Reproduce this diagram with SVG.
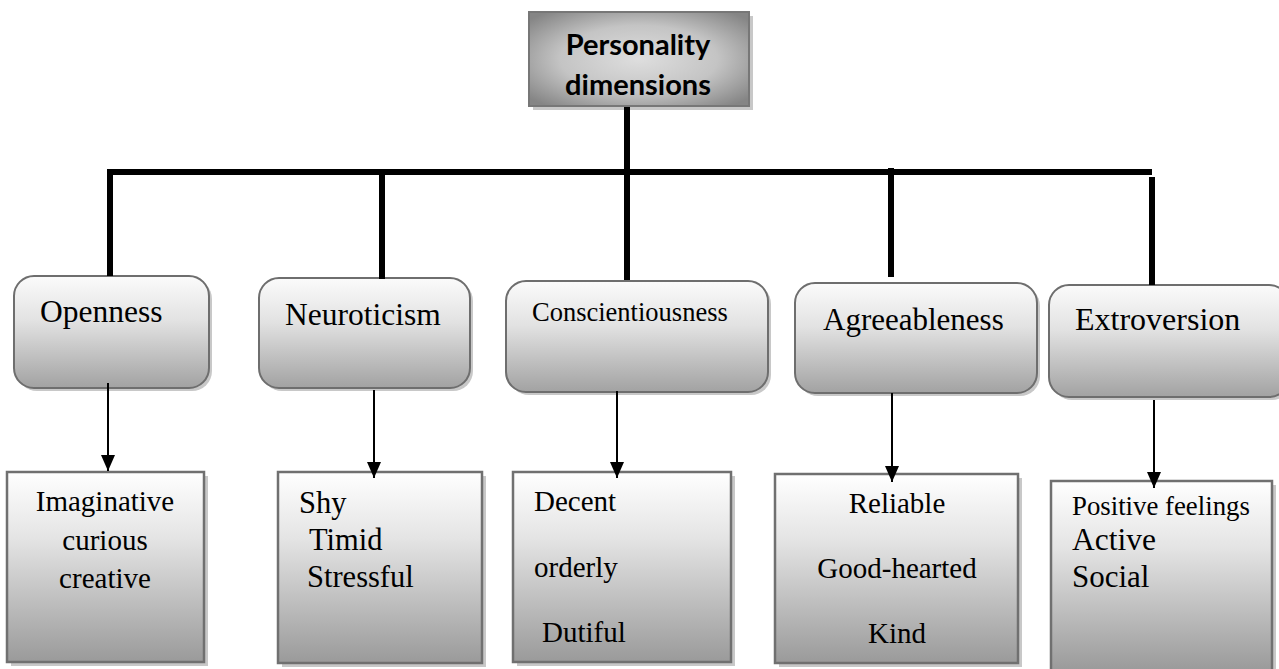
<svg xmlns="http://www.w3.org/2000/svg" width="1279" height="669" viewBox="0 0 1279 669">
  <defs>
    <radialGradient id="gTop" cx="50%" cy="50%" r="65%">
      <stop offset="0" stop-color="#dedede"/>
      <stop offset="0.55" stop-color="#c4c4c4"/>
      <stop offset="1" stop-color="#858585"/>
    </radialGradient>
    <linearGradient id="gMid" x1="0" y1="0" x2="0" y2="1">
      <stop offset="0" stop-color="#fbfbfb"/>
      <stop offset="0.4" stop-color="#e2e2e2"/>
      <stop offset="1" stop-color="#a2a2a2"/>
    </linearGradient>
    <linearGradient id="gLeaf" x1="0" y1="0" x2="0" y2="1">
      <stop offset="0" stop-color="#ffffff"/>
      <stop offset="0.35" stop-color="#e4e4e4"/>
      <stop offset="1" stop-color="#9a9a9a"/>
    </linearGradient>
    <!-- filled triangular head, drawn along the path direction -->
    <marker id="arrow" markerWidth="16" markerHeight="14" refX="16" refY="7" orient="auto" markerUnits="userSpaceOnUse" viewBox="0 0 16 14">
      <path d="M0,0 L16,7 L0,14 Z" fill="#000"/>
    </marker>
  </defs>
  <style>
    .shadow { fill: #c8c8c8; }
    .top { fill: url(#gTop); stroke: #777; stroke-width: 2; }
    .mid { fill: url(#gMid); stroke: #6e6e6e; stroke-width: 2; }
    .leaf { fill: url(#gLeaf); stroke: #707070; stroke-width: 2.5; }
    .title { font-family: Lato, "Liberation Sans", sans-serif; font-weight: bold; font-size: 29px; fill: #000; text-anchor: middle; }
    .lbl { font-family: "Liberation Serif", "Times New Roman", serif; fill: #000; }
    .bus { stroke: #000; stroke-width: 6; fill: none; }
    .link { stroke: #000; stroke-width: 2; fill: none; }
  </style>

  <rect width="1279" height="669" fill="#fff"/>

  <!-- root -->
  <g id="root">
    <rect class="shadow" x="533" y="16" width="220" height="94"/>
    <rect class="top" x="529" y="12" width="220" height="94"/>
    <text class="title" x="638" y="55">Personality</text>
    <text class="title" x="638" y="95">dimensions</text>
  </g>

  <!-- dimensions -->
  <g id="openness">
    <rect class="shadow" x="17" y="279" width="195" height="112" rx="20"/>
    <rect class="mid" x="14" y="276" width="195" height="112" rx="20"/>
    <text class="lbl" x="40" y="322" font-size="31.5">Openness</text>
  </g>
  <g id="neuroticism">
    <rect class="shadow" x="262" y="281" width="211" height="110" rx="20"/>
    <rect class="mid" x="259" y="278" width="211" height="110" rx="20"/>
    <text class="lbl" x="285" y="325" font-size="31.5">Neuroticism</text>
  </g>
  <g id="conscientiousness">
    <rect class="shadow" x="509" y="284" width="262" height="111" rx="20"/>
    <rect class="mid" x="506" y="281" width="262" height="111" rx="20"/>
    <text class="lbl" x="532" y="321" font-size="26.5">Conscientiousness</text>
  </g>
  <g id="agreeableness">
    <rect class="shadow" x="798" y="286" width="242" height="110" rx="20"/>
    <rect class="mid" x="795" y="283" width="242" height="110" rx="20"/>
    <text class="lbl" x="823" y="330" font-size="31">Agreeableness</text>
  </g>
  <g id="extroversion">
    <rect class="shadow" x="1052" y="288" width="240" height="112" rx="20"/>
    <rect class="mid" x="1049" y="285" width="240" height="112" rx="20"/>
    <text class="lbl" x="1075" y="330" font-size="32">Extroversion</text>
  </g>

  <!-- traits -->
  <g id="openness-traits">
    <rect class="shadow" x="11" y="476" width="197" height="190"/>
    <rect class="leaf" x="7" y="472" width="197" height="190"/>
    <g class="lbl" font-size="29" text-anchor="middle">
      <text x="105" y="511">Imaginative</text>
      <text x="105" y="550">curious</text>
      <text x="105" y="588">creative</text>
    </g>
  </g>
  <g id="neuroticism-traits">
    <rect class="shadow" x="282" y="476" width="204" height="191"/>
    <rect class="leaf" x="278" y="472" width="204" height="191"/>
    <g class="lbl" font-size="30.5">
      <text x="299" y="513">Shy</text>
      <text x="309" y="550">Timid</text>
      <text x="307" y="587">Stressful</text>
    </g>
  </g>
  <g id="conscientiousness-traits">
    <rect class="shadow" x="517" y="476" width="218" height="190"/>
    <rect class="leaf" x="513" y="472" width="218" height="190"/>
    <g class="lbl" font-size="29">
      <text x="534" y="511">Decent</text>
      <text x="534" y="577">orderly</text>
      <text x="542" y="642">Dutiful</text>
    </g>
  </g>
  <g id="agreeableness-traits">
    <rect class="shadow" x="779" y="478" width="243" height="189"/>
    <rect class="leaf" x="775" y="474" width="243" height="189"/>
    <g class="lbl" font-size="29" text-anchor="middle">
      <text x="897" y="513">Reliable</text>
      <text x="897" y="578">Good-hearted</text>
      <text x="897" y="643">Kind</text>
    </g>
  </g>
  <g id="extroversion-traits">
    <rect class="shadow" x="1055" y="485" width="221" height="190"/>
    <rect class="leaf" x="1051" y="481" width="221" height="190"/>
    <g class="lbl">
      <text x="1072" y="515" font-size="26.8">Positive feelings</text>
      <text x="1072" y="550" font-size="31.5">Active</text>
      <text x="1072" y="587" font-size="31">Social</text>
    </g>
  </g>

  <!-- connectors: trunk and bus, then thin arrows into the trait boxes -->
  <g id="connectors">
    <line class="bus" x1="627" y1="107" x2="627" y2="280"/>
    <line class="bus" x1="110" y1="172" x2="1152" y2="172"/>
    <line class="bus" x1="110" y1="169" x2="110" y2="276"/>
    <line class="bus" x1="382" y1="172" x2="382" y2="279"/>
    <line class="bus" x1="891" y1="168" x2="891" y2="277"/>
    <line class="bus" x1="1152" y1="177" x2="1152" y2="285"/>
    <line class="link" x1="108" y1="383" x2="108" y2="471" marker-end="url(#arrow)"/>
    <line class="link" x1="374" y1="390" x2="374" y2="478" marker-end="url(#arrow)"/>
    <line class="link" x1="617" y1="391" x2="617" y2="478" marker-end="url(#arrow)"/>
    <line class="link" x1="892" y1="393" x2="892" y2="482" marker-end="url(#arrow)"/>
    <line class="link" x1="1154" y1="400" x2="1154" y2="488" marker-end="url(#arrow)"/>
  </g>
</svg>
